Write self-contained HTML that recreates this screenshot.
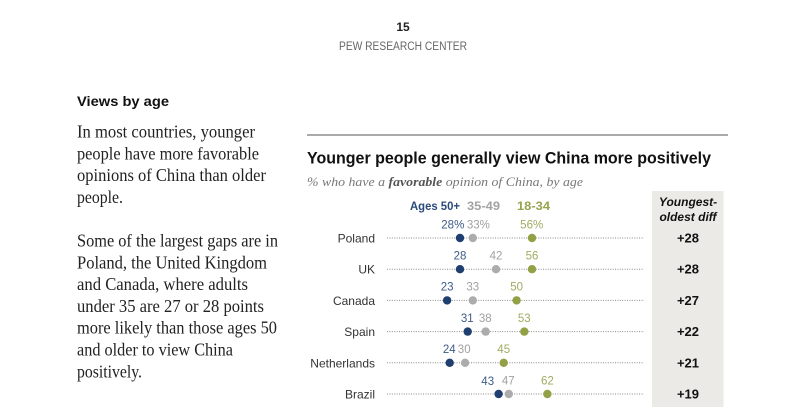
<!DOCTYPE html>
<html><head><meta charset="utf-8"><style>
html,body{margin:0;padding:0;background:#fff;width:800px;height:407px;overflow:hidden}
svg{display:block}
.sans{font-family:"Liberation Sans",Arial,sans-serif}
.serif{font-family:"Liberation Serif","DejaVu Serif",serif}
</style></head><body>
<svg width="800" height="407" viewBox="0 0 800 407" xmlns="http://www.w3.org/2000/svg">
<rect width="800" height="407" fill="#fff"/>
<!-- header -->
<text x="403" y="31" class="sans" font-size="12" font-weight="bold" fill="#222" text-anchor="middle">15</text>
<text x="339" y="50" class="sans" font-size="11.5" fill="#666" textLength="128" lengthAdjust="spacingAndGlyphs">PEW RESEARCH CENTER</text>

<!-- left text -->
<text x="77" y="106" class="sans" font-size="14" font-weight="bold" fill="#111" textLength="92" lengthAdjust="spacingAndGlyphs">Views by age</text>
<g class="serif" font-size="18" fill="#222">
<text x="77" y="137.5" textLength="178" lengthAdjust="spacingAndGlyphs">In most countries, younger</text>
<text x="77" y="159.3" textLength="182" lengthAdjust="spacingAndGlyphs">people have more favorable</text>
<text x="77" y="181.1" textLength="189" lengthAdjust="spacingAndGlyphs">opinions of China than older</text>
<text x="77" y="202.9" textLength="46" lengthAdjust="spacingAndGlyphs">people.</text>
<text x="77" y="246.5" textLength="201" lengthAdjust="spacingAndGlyphs">Some of the largest gaps are in</text>
<text x="77" y="268.3" textLength="190" lengthAdjust="spacingAndGlyphs">Poland, the United Kingdom</text>
<text x="77" y="290.1" textLength="171" lengthAdjust="spacingAndGlyphs">and Canada, where adults</text>
<text x="77" y="311.9" textLength="187" lengthAdjust="spacingAndGlyphs">under 35 are 27 or 28 points</text>
<text x="77" y="333.7" textLength="200" lengthAdjust="spacingAndGlyphs">more likely than those ages 50</text>
<text x="77" y="355.5" textLength="156" lengthAdjust="spacingAndGlyphs">and older to view China</text>
<text x="77" y="377.3" textLength="65" lengthAdjust="spacingAndGlyphs">positively.</text>
</g>

<!-- chart -->
<line x1="307" y1="135" x2="728" y2="135" stroke="#777" stroke-width="1.3"/>
<text x="307" y="163.5" class="sans" font-size="16.5" font-weight="bold" fill="#111" textLength="404" lengthAdjust="spacingAndGlyphs">Younger people generally view China more positively</text>
<text x="307" y="186" class="serif" font-size="13" font-style="italic" fill="#777" textLength="276" lengthAdjust="spacingAndGlyphs">% who have a <tspan font-weight="bold" fill="#555">favorable</tspan> opinion of China, by age</text>

<rect x="652" y="191" width="71.5" height="216" fill="#ebeae6"/>
<text x="688" y="206" class="sans" font-size="12" font-weight="bold" font-style="italic" fill="#111" text-anchor="middle">Youngest-</text>
<text x="688" y="221" class="sans" font-size="12" font-weight="bold" font-style="italic" fill="#111" text-anchor="middle">oldest diff</text>

<g class="sans" font-size="12" font-weight="bold">
<text x="410" y="210" fill="#2a4a7a" textLength="50" lengthAdjust="spacingAndGlyphs">Ages 50+</text>
<text x="467" y="210" fill="#a3a3a3" textLength="33" lengthAdjust="spacingAndGlyphs">35-49</text>
<text x="517" y="210" fill="#98a34f" textLength="33" lengthAdjust="spacingAndGlyphs">18-34</text>
</g>

<g stroke="#8a8a8a" stroke-width="1" stroke-dasharray="1,1.4">
<line x1="387" y1="238" x2="644" y2="238"/>
<line x1="387" y1="269.2" x2="644" y2="269.2"/>
<line x1="387" y1="300.4" x2="644" y2="300.4"/>
<line x1="387" y1="331.6" x2="644" y2="331.6"/>
<line x1="387" y1="362.8" x2="644" y2="362.8"/>
<line x1="387" y1="394" x2="644" y2="394"/>
</g>

<g class="sans" font-size="12" fill="#333" text-anchor="end">
<text x="375" y="242.5">Poland</text>
<text x="375" y="273.7">UK</text>
<text x="375" y="304.9">Canada</text>
<text x="375" y="336.1">Spain</text>
<text x="375" y="367.3">Netherlands</text>
<text x="375" y="398.5">Brazil</text>
</g>

<g class="sans" font-size="13" font-weight="bold" fill="#111" text-anchor="middle">
<text x="688" y="242.5">+28</text>
<text x="688" y="273.7">+28</text>
<text x="688" y="304.9">+27</text>
<text x="688" y="336.1">+22</text>
<text x="688" y="367.3">+21</text>
<text x="688" y="398.5">+19</text>
</g>

<g>
<circle cx="460" cy="238" r="4.2" fill="#1f3f70"/>
<circle cx="472.8" cy="238" r="4.2" fill="#acacac"/>
<circle cx="532" cy="238" r="4.2" fill="#93a045"/>
<circle cx="460" cy="269.2" r="4.2" fill="#1f3f70"/>
<circle cx="496" cy="269.2" r="4.2" fill="#acacac"/>
<circle cx="532" cy="269.2" r="4.2" fill="#93a045"/>
<circle cx="447.1" cy="300.4" r="4.2" fill="#1f3f70"/>
<circle cx="472.8" cy="300.4" r="4.2" fill="#acacac"/>
<circle cx="516.6" cy="300.4" r="4.2" fill="#93a045"/>
<circle cx="467.7" cy="331.6" r="4.2" fill="#1f3f70"/>
<circle cx="485.7" cy="331.6" r="4.2" fill="#acacac"/>
<circle cx="524.3" cy="331.6" r="4.2" fill="#93a045"/>
<circle cx="449.7" cy="362.8" r="4.2" fill="#1f3f70"/>
<circle cx="465.1" cy="362.8" r="4.2" fill="#acacac"/>
<circle cx="503.7" cy="362.8" r="4.2" fill="#93a045"/>
<circle cx="498.6" cy="394" r="4.2" fill="#1f3f70"/>
<circle cx="508.8" cy="394" r="4.2" fill="#acacac"/>
<circle cx="547.4" cy="394" r="4.2" fill="#93a045"/>
</g>

<g class="sans" font-size="11.5" text-anchor="middle">
<text x="452.8" y="228.5" fill="#3d5b86">28%</text>
<text x="478.4" y="228.5" fill="#a0a0a0">33%</text>
<text x="531.7" y="228.5" fill="#a2ab62">56%</text>

<text x="460" y="259.5" fill="#3d5b86">28</text>
<text x="496" y="259.5" fill="#a0a0a0">42</text>
<text x="532" y="259.5" fill="#a2ab62">56</text>

<text x="447.1" y="290.7" fill="#3d5b86">23</text>
<text x="472.8" y="290.7" fill="#a0a0a0">33</text>
<text x="516.6" y="290.7" fill="#a2ab62">50</text>

<text x="467.3" y="321.9" fill="#3d5b86">31</text>
<text x="485.3" y="321.9" fill="#a0a0a0">38</text>
<text x="524.3" y="321.9" fill="#a2ab62">53</text>

<text x="449.3" y="353.1" fill="#3d5b86">24</text>
<text x="464.2" y="353.1" fill="#a0a0a0">30</text>
<text x="503.7" y="353.1" fill="#a2ab62">45</text>

<text x="487.7" y="384.8" fill="#3d5b86">43</text>
<text x="508.3" y="384.3" fill="#a0a0a0">47</text>
<text x="547.4" y="384.3" fill="#a2ab62">62</text>
</g>
</svg>
</body></html>
